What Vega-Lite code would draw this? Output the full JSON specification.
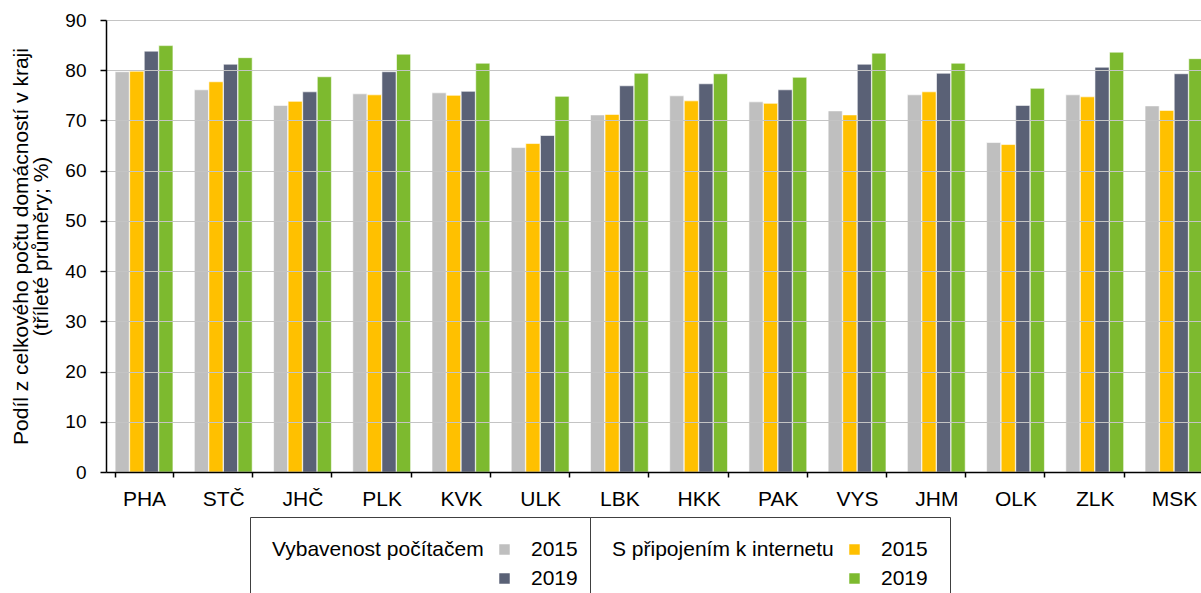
{
  "$schema": "https://vega.github.io/schema/vega-lite/v6.json",
  "width": 1095,
  "height": 452,
  "autosize": {"type": "none"},
  "padding": {"left": 106, "top": 20, "right": 0, "bottom": 121},
  "background": "white",
  "config": {
    "font": "Liberation Sans",
    "view": {"stroke": null},
    "axis": {"labelFont": "Liberation Sans", "titleFont": "Liberation Sans", "labelColor": "black", "titleColor": "black"},
    "legend": {
      "labelFont": "Liberation Sans",
      "titleFont": "Liberation Sans",
      "labelFontSize": 21,
      "titleFontSize": 21,
      "titleFontWeight": "normal",
      "titleOrient": "left",
      "titleAngle": 0,
      "titleAnchor": "start",
      "titleBaseline": "top",
      "titleLimit": 400,
      "titleColor": "black",
      "labelColor": "black",
      "titlePadding": 10,
      "labelOffset": 16,
      "symbolType": "square",
      "symbolSize": 110,
      "symbolStrokeWidth": 0,
      "rowPadding": 7,
      "direction": "vertical",
      "orient": "none",
      "strokeColor": "#404040",
      "fillColor": "white",
      "padding": 22
    }
  },
  "data": {
    "values": [
      {"kraj": "PHA", "typ": "P", "rok": "2015", "serie": "P2015", "hodnota": 79.7},
      {"kraj": "PHA", "typ": "I", "rok": "2015", "serie": "I2015", "hodnota": 79.8},
      {"kraj": "PHA", "typ": "P", "rok": "2019", "serie": "P2019", "hodnota": 83.8},
      {"kraj": "PHA", "typ": "I", "rok": "2019", "serie": "I2019", "hodnota": 84.9},
      {"kraj": "STČ", "typ": "P", "rok": "2015", "serie": "P2015", "hodnota": 76.1},
      {"kraj": "STČ", "typ": "I", "rok": "2015", "serie": "I2015", "hodnota": 77.7},
      {"kraj": "STČ", "typ": "P", "rok": "2019", "serie": "P2019", "hodnota": 81.2},
      {"kraj": "STČ", "typ": "I", "rok": "2019", "serie": "I2019", "hodnota": 82.5},
      {"kraj": "JHČ", "typ": "P", "rok": "2015", "serie": "P2015", "hodnota": 73.0},
      {"kraj": "JHČ", "typ": "I", "rok": "2015", "serie": "I2015", "hodnota": 73.8},
      {"kraj": "JHČ", "typ": "P", "rok": "2019", "serie": "P2019", "hodnota": 75.7},
      {"kraj": "JHČ", "typ": "I", "rok": "2019", "serie": "I2019", "hodnota": 78.7},
      {"kraj": "PLK", "typ": "P", "rok": "2015", "serie": "P2015", "hodnota": 75.3},
      {"kraj": "PLK", "typ": "I", "rok": "2015", "serie": "I2015", "hodnota": 75.1},
      {"kraj": "PLK", "typ": "P", "rok": "2019", "serie": "P2019", "hodnota": 79.7},
      {"kraj": "PLK", "typ": "I", "rok": "2019", "serie": "I2019", "hodnota": 83.2},
      {"kraj": "KVK", "typ": "P", "rok": "2015", "serie": "P2015", "hodnota": 75.5},
      {"kraj": "KVK", "typ": "I", "rok": "2015", "serie": "I2015", "hodnota": 75.0},
      {"kraj": "KVK", "typ": "P", "rok": "2019", "serie": "P2019", "hodnota": 75.8},
      {"kraj": "KVK", "typ": "I", "rok": "2019", "serie": "I2019", "hodnota": 81.4},
      {"kraj": "ULK", "typ": "P", "rok": "2015", "serie": "P2015", "hodnota": 64.6},
      {"kraj": "ULK", "typ": "I", "rok": "2015", "serie": "I2015", "hodnota": 65.4},
      {"kraj": "ULK", "typ": "P", "rok": "2019", "serie": "P2019", "hodnota": 67.0},
      {"kraj": "ULK", "typ": "I", "rok": "2019", "serie": "I2019", "hodnota": 74.8},
      {"kraj": "LBK", "typ": "P", "rok": "2015", "serie": "P2015", "hodnota": 71.1},
      {"kraj": "LBK", "typ": "I", "rok": "2015", "serie": "I2015", "hodnota": 71.2},
      {"kraj": "LBK", "typ": "P", "rok": "2019", "serie": "P2019", "hodnota": 76.9},
      {"kraj": "LBK", "typ": "I", "rok": "2019", "serie": "I2019", "hodnota": 79.4},
      {"kraj": "HKK", "typ": "P", "rok": "2015", "serie": "P2015", "hodnota": 74.9},
      {"kraj": "HKK", "typ": "I", "rok": "2015", "serie": "I2015", "hodnota": 73.9},
      {"kraj": "HKK", "typ": "P", "rok": "2019", "serie": "P2019", "hodnota": 77.3},
      {"kraj": "HKK", "typ": "I", "rok": "2019", "serie": "I2019", "hodnota": 79.3},
      {"kraj": "PAK", "typ": "P", "rok": "2015", "serie": "P2015", "hodnota": 73.7},
      {"kraj": "PAK", "typ": "I", "rok": "2015", "serie": "I2015", "hodnota": 73.4},
      {"kraj": "PAK", "typ": "P", "rok": "2019", "serie": "P2019", "hodnota": 76.1},
      {"kraj": "PAK", "typ": "I", "rok": "2019", "serie": "I2019", "hodnota": 78.6},
      {"kraj": "VYS", "typ": "P", "rok": "2015", "serie": "P2015", "hodnota": 71.9},
      {"kraj": "VYS", "typ": "I", "rok": "2015", "serie": "I2015", "hodnota": 71.1},
      {"kraj": "VYS", "typ": "P", "rok": "2019", "serie": "P2019", "hodnota": 81.2},
      {"kraj": "VYS", "typ": "I", "rok": "2019", "serie": "I2019", "hodnota": 83.4},
      {"kraj": "JHM", "typ": "P", "rok": "2015", "serie": "P2015", "hodnota": 75.1},
      {"kraj": "JHM", "typ": "I", "rok": "2015", "serie": "I2015", "hodnota": 75.7},
      {"kraj": "JHM", "typ": "P", "rok": "2019", "serie": "P2019", "hodnota": 79.4},
      {"kraj": "JHM", "typ": "I", "rok": "2019", "serie": "I2019", "hodnota": 81.4},
      {"kraj": "OLK", "typ": "P", "rok": "2015", "serie": "P2015", "hodnota": 65.6},
      {"kraj": "OLK", "typ": "I", "rok": "2015", "serie": "I2015", "hodnota": 65.2},
      {"kraj": "OLK", "typ": "P", "rok": "2019", "serie": "P2019", "hodnota": 73.0},
      {"kraj": "OLK", "typ": "I", "rok": "2019", "serie": "I2019", "hodnota": 76.4},
      {"kraj": "ZLK", "typ": "P", "rok": "2015", "serie": "P2015", "hodnota": 75.1},
      {"kraj": "ZLK", "typ": "I", "rok": "2015", "serie": "I2015", "hodnota": 74.7},
      {"kraj": "ZLK", "typ": "P", "rok": "2019", "serie": "P2019", "hodnota": 80.6},
      {"kraj": "ZLK", "typ": "I", "rok": "2019", "serie": "I2019", "hodnota": 83.6},
      {"kraj": "MSK", "typ": "P", "rok": "2015", "serie": "P2015", "hodnota": 72.9},
      {"kraj": "MSK", "typ": "I", "rok": "2015", "serie": "I2015", "hodnota": 72.0},
      {"kraj": "MSK", "typ": "P", "rok": "2019", "serie": "P2019", "hodnota": 79.3},
      {"kraj": "MSK", "typ": "I", "rok": "2019", "serie": "I2019", "hodnota": 82.3}
    ]
  },
  "encoding": {
    "x": {
      "field": "kraj",
      "type": "nominal",
      "sort": null,
      "scale": {"range": [0, 1106], "paddingInner": 0.27, "paddingOuter": 0.115},
      "axis": {
        "title": null,
        "labelAngle": 0,
        "labelFontSize": 21,
        "labelPadding": 11,
        "tickBand": "extent",
        "tickSize": 5,
        "tickColor": "black",
        "tickWidth": 1.5,
        "domainColor": "black",
        "domainWidth": 1.5,
        "grid": false,
        "zindex": 1
      }
    },
    "xOffset": {
      "field": "serie",
      "type": "nominal",
      "scale": {"domain": ["P2015", "I2015", "P2019", "I2019"], "paddingInner": 0.03}
    },
    "y": {
      "field": "hodnota",
      "type": "quantitative",
      "scale": {"domain": [0, 90], "nice": false},
      "axis": {
        "title": ["Podíl z celkového počtu domácností v kraji", "(tříleté průměry; %)"],
        "titleFontSize": 21,
        "titleFontWeight": "normal",
        "titleLineHeight": 20,
        "titlePadding": 13,
        "labelFontSize": 19,
        "labelPadding": 14,
        "values": [0, 10, 20, 30, 40, 50, 60, 70, 80, 90],
        "tickSize": 6,
        "tickWidth": 1.5,
        "tickColor": "black",
        "domainColor": "black",
        "domainWidth": 1.5,
        "grid": true,
        "gridColor": "#C4C4C4",
        "gridWidth": 1.2,
        "zindex": 1
      }
    }
  },
  "layer": [
    {
      "transform": [{"filter": "datum.typ == 'P'"}],
      "mark": {"type": "bar", "stroke": "white", "strokeWidth": 0.6},
      "encoding": {
        "color": {
          "field": "rok",
          "type": "nominal",
          "scale": {"domain": ["2015", "2019"], "range": ["#BFBFBF", "#5A6176"]},
          "legend": {"title": "Vybavenost počítačem", "legendX": 144, "legendY": 497}
        }
      }
    },
    {
      "transform": [{"filter": "datum.typ == 'I'"}],
      "mark": {"type": "bar", "stroke": "white", "strokeWidth": 0.6},
      "encoding": {
        "color": {
          "field": "rok",
          "type": "nominal",
          "scale": {"domain": ["2015", "2019"], "range": ["#FFC000", "#7DBA2F"]},
          "legend": {"title": "S připojením k internetu", "legendX": 484, "legendY": 497}
        }
      }
    }
  ],
  "resolve": {"scale": {"color": "independent"}}
}
